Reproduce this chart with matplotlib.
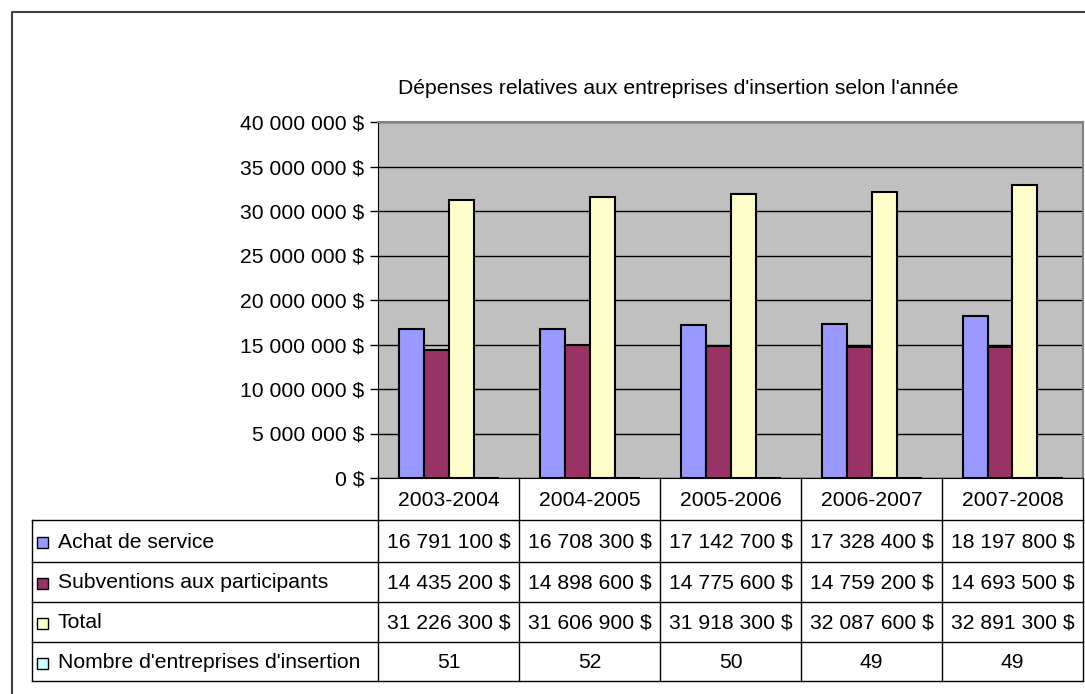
import numpy as np
import matplotlib
matplotlib.use("Agg")
import matplotlib.pyplot as plt
from matplotlib.lines import Line2D
from matplotlib.patches import Rectangle
from matplotlib.ticker import FuncFormatter

plt.rcParams['font.family'] = ['Liberation Sans', 'DejaVu Sans']

# data
years = ["2003-2004", "2004-2005", "2005-2006", "2006-2007", "2007-2008"]
achat = [16791100, 16708300, 17142700, 17328400, 18197800]
subventions = [14435200, 14898600, 14775600, 14759200, 14693500]
total = [31226300, 31606900, 31918300, 32087600, 32891300]
nombre = [51, 52, 50, 49, 49]
series_names = ["Achat de service", "Subventions aux participants", "Total",
                "Nombre d'entreprises d'insertion"]
colors = ["#9999FF", "#993366", "#FFFFCC", "#CCFFFF"]
title = "Dépenses relatives aux entreprises d'insertion selon l'année"


def fmt_money(v):
    return f"{int(v):,}".replace(",", " ") + " $"


W, H = 1085, 694
fig = plt.figure(figsize=(W / 100, H / 100), dpi=100)
fs = 15.2

# plot area in pixel coords
px_l, px_r, px_t, px_b = 378, 1083, 122, 478
ax = fig.add_axes([px_l / W, 1 - px_b / H, (px_r - px_l) / W, (px_b - px_t) / H])
ax.set_facecolor("#C0C0C0")

x = np.arange(len(years))
bw = 25 / 141
all_series = [achat, subventions, total, nombre]
for k, (vals, c) in enumerate(zip(all_series, colors)):
    off = (k - 1.5) * bw
    ax.bar(x + off, vals, width=bw, color=c, edgecolor="black", linewidth=1.5, zorder=3)

ax.set_xlim(-0.5, len(years) - 0.5)
ax.set_ylim(0, 40000000)
ax.set_yticks(np.arange(0, 40000001, 5000000))
ax.yaxis.set_major_formatter(FuncFormatter(lambda v, p: fmt_money(v)))
ax.tick_params(axis="y", labelsize=fs, length=6, width=1, direction="out", pad=4)
ax.set_xticks([])
ax.grid(axis="y", color="black", linewidth=1, zorder=1)
ax.set_axisbelow(True)
for s in ["top", "right"]:
    ax.spines[s].set_color("#808080")
    ax.spines[s].set_linewidth(1.5)
ax.spines["left"].set_color("black")
ax.spines["bottom"].set_color("black")

# overlay for frame and data table (pixel coords)
ov = fig.add_axes([0, 0, 1, 1], zorder=5)
ov.set_xlim(0, W)
ov.set_ylim(H, 0)
ov.axis("off")
ov.patch.set_alpha(0)

# outer frame
ov.add_line(Line2D([12, 12, W + 5], [H + 5, 12, 12], color="#404040", linewidth=1.5))

ov.text(678, 88, title, ha="center", va="center", fontsize=fs)

col_edges = np.linspace(px_l, px_r, len(years) + 1)
row_edges = [px_b, 520, 562, 602, 642, 681]
tbl_left = 32

for ry in row_edges[1:]:
    ov.add_line(Line2D([tbl_left, px_r], [ry, ry], color="black", linewidth=1))
ov.add_line(Line2D([tbl_left, tbl_left], [row_edges[1], row_edges[-1]], color="black", linewidth=1))
for cx in col_edges:
    ov.add_line(Line2D([cx, cx], [row_edges[0], row_edges[-1]], color="black", linewidth=1))

for i, yr in enumerate(years):
    cx = (col_edges[i] + col_edges[i + 1]) / 2
    ov.text(cx, (row_edges[0] + row_edges[1]) / 2 + 1, yr, ha="center", va="center", fontsize=fs)

rows = [[fmt_money(v) for v in achat],
        [fmt_money(v) for v in subventions],
        [fmt_money(v) for v in total],
        [str(v) for v in nombre]]
for r, (name, c, vals) in enumerate(zip(series_names, colors, rows)):
    cy = (row_edges[r + 1] + row_edges[r + 2]) / 2 + 1
    ov.add_patch(Rectangle((37, cy - 5), 11, 11, facecolor=c, edgecolor="black", linewidth=1))
    ov.text(58, cy, name, ha="left", va="center", fontsize=fs)
    for i, v in enumerate(vals):
        cx = (col_edges[i] + col_edges[i + 1]) / 2
        ov.text(cx, cy, v, ha="center", va="center", fontsize=fs)

fig.savefig("out.png", dpi=100)
